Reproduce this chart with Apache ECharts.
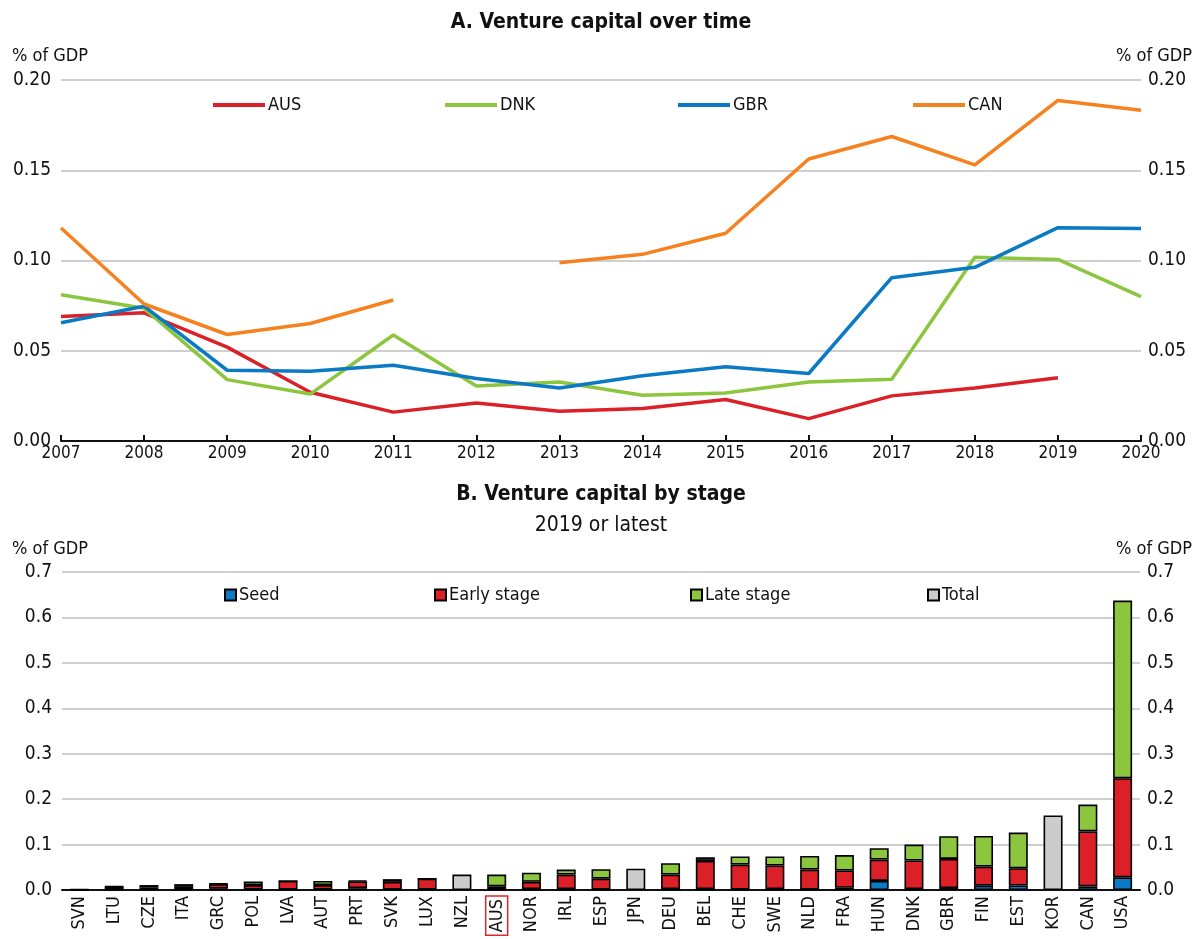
<!DOCTYPE html>
<html>
<head>
  <meta charset="utf-8" />
  <title>Venture capital</title>
  <style>
    html, body { margin: 0; padding: 0; background: #fff; }
    #chart { width: 1202px; height: 939px; }
  </style>
</head>
<body>
  <div id="chart"></div>
  <script src="https://cdn.jsdelivr.net/npm/echarts@6/dist/echarts.min.js"></script>
  <script>
    // Panel A: venture capital over time, % of GDP
    var years = ['2007', '2008', '2009', '2010', '2011', '2012', '2013', '2014', '2015', '2016', '2017', '2018', '2019', '2020'];
    var ausLine = [0.069, 0.071, 0.052, 0.027, 0.016, 0.021, 0.0165, 0.018, 0.023, 0.0124, 0.025, 0.0294, 0.035, null];
    var dnkLine = [0.081, 0.0735, 0.034, 0.026, 0.0587, 0.0305, 0.0327, 0.0253, 0.0266, 0.0327, 0.0342, 0.1018, 0.1006, 0.080];
    var gbrLine = [0.0655, 0.0747, 0.0392, 0.0387, 0.042, 0.0346, 0.0294, 0.0361, 0.0411, 0.0374, 0.0905, 0.0962, 0.1182, 0.1177];
    var canLine = [0.118, 0.0759, 0.059, 0.0651, 0.0781, null, 0.0988, 0.1034, 0.1151, 0.1562, 0.1687, 0.153, 0.1887, 0.1832];

    // Panel B: venture capital by stage, 2019 or latest
    var countries = ['SVN', 'LTU', 'CZE', 'ITA', 'GRC', 'POL', 'LVA', 'AUT', 'PRT', 'SVK', 'LUX', 'NZL', 'AUS', 'NOR', 'IRL', 'ESP', 'JPN', 'DEU', 'BEL', 'CHE', 'SWE', 'NLD', 'FRA', 'HUN', 'DNK', 'GBR', 'FIN', 'EST', 'KOR', 'CAN', 'USA'];
    var seed  = [0.0005, 0.002, 0.001, 0.001, 0.003, 0.001, 0.001, 0.001, 0.004, 0.001, 0.001, null, 0.002, 0.002, 0.002, 0.001, null, 0.002, 0.002, 0.001, 0.002, 0.001, 0.005, 0.020, 0.002, 0.0044, 0.0096, 0.010, null, 0.008, 0.028];
    var early = [0.0005, 0.005, 0.004, 0.006, 0.010, 0.010, 0.019, 0.010, 0.015, 0.017, 0.024, null, 0.006, 0.016, 0.032, 0.024, null, 0.032, 0.062, 0.055, 0.052, 0.044, 0.038, 0.047, 0.063, 0.064, 0.042, 0.038, null, 0.121, 0.218];
    var late  = [0, 0.001, 0.006, 0.006, 0.001, 0.008, 0, 0.009, 0.002, 0.006, 0, null, 0.026, 0.020, 0.011, 0.021, null, 0.025, 0.008, 0.018, 0.020, 0.030, 0.034, 0.025, 0.035, 0.050, 0.0675, 0.0785, null, 0.059, 0.391];
    var total = [null, null, null, null, null, null, null, null, null, null, null, 0.034, null, null, null, null, 0.047, null, null, null, null, null, null, null, null, null, null, null, 0.164, null, null];

    var FONT = "'Liberation Sans Narrow', 'Arial Narrow', 'DejaVu Sans Condensed', sans-serif";
    var GRID_LINE = { show: true, lineStyle: { color: '#cfcfcf', width: 2 } };

    var myChart = echarts.init(document.getElementById('chart'));

    function lineSeries(name, data, color) {
      return {
        name: name,
        type: 'line',
        xAxisIndex: 0,
        yAxisIndex: 0,
        data: data,
        showSymbol: false,
        symbol: 'none',
        lineStyle: { color: color, width: 3.5 },
        itemStyle: { color: color },
        connectNulls: false
      };
    }

    function barSeries(name, data, color) {
      return {
        name: name,
        type: 'bar',
        xAxisIndex: 1,
        yAxisIndex: 2,
        stack: 'vc',
        barWidth: 19,
        data: data,
        itemStyle: { color: color, borderColor: '#000', borderWidth: 1.6 }
      };
    }

    function legendAt(name, left, top, isLine) {
      return {
        data: [name],
        left: left,
        top: top,
        icon: 'rect',
        itemWidth: isLine ? 52 : 11,
        itemHeight: isLine ? 4 : 11,
        itemGap: 0,
        selectedMode: false,
        textStyle: { fontFamily: FONT, fontSize: 18, color: '#111', padding: [0, 0, 0, -2] }
      };
    }

    var option = {
      backgroundColor: '#fff',
      animation: false,
      textStyle: { fontFamily: FONT },
      title: [
        { text: 'A. Venture capital over time', left: 'center', top: 7,
          textStyle: { fontFamily: FONT, fontSize: 21, fontWeight: 'bold', color: '#111' } },
        { text: 'B. Venture capital by stage', left: 'center', top: 479,
          textStyle: { fontFamily: FONT, fontSize: 21, fontWeight: 'bold', color: '#111' } },
        { text: '2019 or latest', left: 'center', top: 510,
          textStyle: { fontFamily: FONT, fontSize: 21, fontWeight: 'normal', color: '#111' } }
      ],
      legend: [
        legendAt('AUS', 208, 91, true),
        legendAt('DNK', 440, 91, true),
        legendAt('GBR', 673, 91, true),
        legendAt('CAN', 908, 91, true),
        legendAt('Seed', 219, 581, false),
        legendAt('Early stage', 429, 581, false),
        legendAt('Late stage', 685, 581, false),
        legendAt('Total', 922, 581, false)
      ],
      graphic: [
        { type: 'text', left: 12, top: 47, style: { text: '% of GDP', font: '18px ' + FONT, fill: '#111' } },
        { type: 'text', right: 10, top: 47, style: { text: '% of GDP', font: '18px ' + FONT, fill: '#111' } },
        { type: 'text', left: 12, top: 540, style: { text: '% of GDP', font: '18px ' + FONT, fill: '#111' } },
        { type: 'text', right: 10, top: 540, style: { text: '% of GDP', font: '18px ' + FONT, fill: '#111' } }
      ],
      grid: [
        { left: 61, right: 61, top: 80, height: 361 },
        { left: 62, right: 62, top: 572, height: 321 }
      ],
      xAxis: [
        {
          type: 'category', gridIndex: 0, data: years, boundaryGap: false,
          axisLine: { lineStyle: { color: '#111', width: 2 } },
          axisTick: { inside: true, length: 6, lineStyle: { color: '#111', width: 2 } },
          axisLabel: { fontFamily: FONT, fontSize: 17, color: '#111', margin: 4 },
          splitLine: { show: false }
        },
        {
          type: 'category', gridIndex: 1, data: countries,
          axisLine: { lineStyle: { color: '#111', width: 2 } },
          axisTick: { inside: true, length: 6, interval: 0, lineStyle: { color: '#111', width: 2 } },
          axisLabel: {
            interval: 0, rotate: 90, fontFamily: FONT, fontSize: 18, color: '#111', margin: 6,
            formatter: function (v) { return v === 'AUS' ? '{hl|' + v + '}' : v; },
            rich: {
              hl: { fontFamily: FONT, fontSize: 18, color: '#111', borderColor: '#e0242b', borderWidth: 1.5, padding: [3, 3, 1, 3] }
            }
          },
          splitLine: { show: false }
        }
      ],
      yAxis: [
        {
          type: 'value', gridIndex: 0, min: 0, max: 0.2, interval: 0.05, position: 'left',
          axisLine: { show: false }, axisTick: { show: false },
          axisLabel: { fontFamily: FONT, fontSize: 19, color: '#111', margin: 10,
            formatter: function (v) { return v.toFixed(2); } },
          splitLine: GRID_LINE
        },
        {
          type: 'value', gridIndex: 0, min: 0, max: 0.2, interval: 0.05, position: 'right',
          axisLine: { show: false }, axisTick: { show: false },
          axisLabel: { fontFamily: FONT, fontSize: 19, color: '#111', margin: 7,
            formatter: function (v) { return v.toFixed(2); } },
          splitLine: { show: false }
        },
        {
          type: 'value', gridIndex: 1, min: 0, max: 0.7, interval: 0.1, position: 'left',
          axisLine: { show: false }, axisTick: { show: false },
          axisLabel: { fontFamily: FONT, fontSize: 19, color: '#111', margin: 10,
            formatter: function (v) { return v.toFixed(1); } },
          splitLine: GRID_LINE
        },
        {
          type: 'value', gridIndex: 1, min: 0, max: 0.7, interval: 0.1, position: 'right',
          axisLine: { show: false }, axisTick: { show: false },
          axisLabel: { fontFamily: FONT, fontSize: 19, color: '#111', margin: 7,
            formatter: function (v) { return v.toFixed(1); } },
          splitLine: { show: false }
        }
      ],
      series: [
        lineSeries('AUS', ausLine, '#dc2028'),
        lineSeries('DNK', dnkLine, '#8cc63f'),
        lineSeries('GBR', gbrLine, '#0a7ac4'),
        lineSeries('CAN', canLine, '#f5821f'),
        barSeries('Seed', seed, '#0a7ac4'),
        barSeries('Early stage', early, '#dc2028'),
        barSeries('Late stage', late, '#8cc63f'),
        barSeries('Total', total, '#cccccc')
      ]
    };

    myChart.setOption(option);
  </script>
</body>
</html>
